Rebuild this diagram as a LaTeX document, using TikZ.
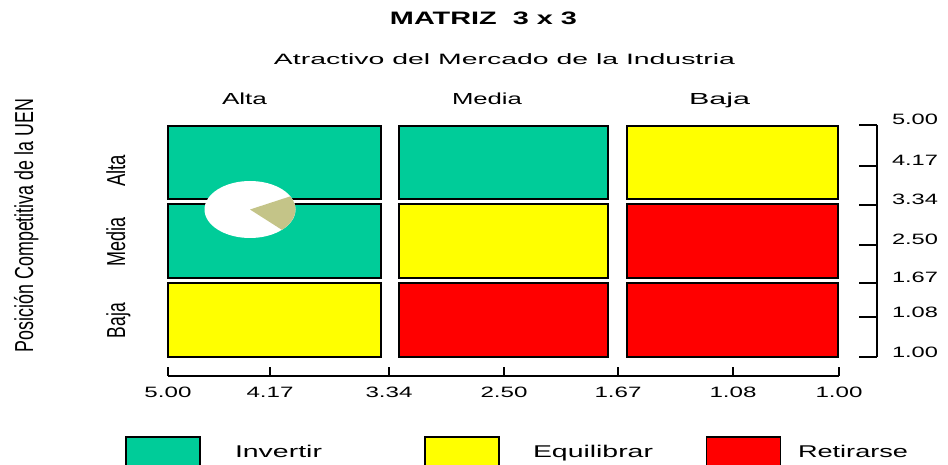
\documentclass[tikz,border=0pt]{standalone}
\usepackage{fontspec}
\setmainfont{Liberation Sans}
\usepackage{graphicx}
\definecolor{inv}{RGB}{0,204,153}
\definecolor{equ}{RGB}{255,255,0}
\definecolor{ret}{RGB}{255,0,0}
\definecolor{piecol}{RGB}{196,196,136}
\newcommand\fittext[3]{\resizebox{#1pt}{\height}{\fontsize{#2}{#2}\selectfont #3}}
\begin{document}
\begin{tikzpicture}[x=1pt,y=-1pt,
  cellbox/.style={draw=black,line width=1.6pt,inner sep=0pt,outer sep=0pt},
  lbl/.style={inner sep=0pt,outer sep=0pt,anchor=base},
  axisline/.style={draw=black,line width=1.4pt}]
\useasboundingbox (0,0) rectangle (948,465);
\clip (0,0) rectangle (948,465);

% title texts
\node[lbl] (title) at (483.5,25) {\fittext{187}{18}{\bfseries MATRIZ\ \ 3 x 3}};
\node[lbl] (sub) at (504.5,65) {\fittext{461}{15}{Atractivo del Mercado de la Industria}};
\node[lbl] (hA) at (244.5,105) {\fittext{45}{16}{Alta}};
\node[lbl] (hM) at (487,105) {\fittext{70}{16}{Media}};
\node[lbl] (hB) at (719.5,105) {\fittext{61}{16}{Baja}};

% vertical labels
\node[lbl,rotate=90] (ylab) at (33,225.5) {\fittext{253}{26}{Posición Competitiva de la UEN}};
\node[lbl,rotate=90] (rA) at (125,171) {\fittext{32}{26}{Alta}};
\node[lbl,rotate=90] (rM) at (125,242) {\fittext{49}{26}{Media}};
\node[lbl,rotate=90] (rB) at (125,320.5) {\fittext{35}{26}{Baja}};

% cells
\node[cellbox,fill=inv,minimum width=213pt,minimum height=73pt] (c11) at (274.5,162.5) {};
\node[cellbox,fill=inv,minimum width=209pt,minimum height=73pt] (c12) at (503.5,162.5) {};
\node[cellbox,fill=equ,minimum width=211pt,minimum height=73pt] (c13) at (732.5,162.5) {};
\node[cellbox,fill=inv,minimum width=213pt,minimum height=74pt] (c21) at (274.5,241) {};
\node[cellbox,fill=equ,minimum width=209pt,minimum height=74pt] (c22) at (503.5,241) {};
\node[cellbox,fill=ret,minimum width=211pt,minimum height=74pt] (c23) at (732.5,241) {};
\node[cellbox,fill=equ,minimum width=213pt,minimum height=74pt] (c31) at (274.5,320) {};
\node[cellbox,fill=ret,minimum width=209pt,minimum height=74pt] (c32) at (503.5,320) {};
\node[cellbox,fill=ret,minimum width=211pt,minimum height=74pt] (c33) at (732.5,320) {};

% pie
\coordinate (pc) at (250,209.5);
\fill[white] (pc) ellipse [x radius=45.5, y radius=28.5];
\fill[piecol] (pc) -- ++(-27.5:45.5 and 28.5) arc[start angle=-27.5, end angle=45.5, x radius=45.5, y radius=28.5] -- cycle;

% right axis
\coordinate (rtop) at (877,125);
\coordinate (rbot) at (877,357);
\draw[axisline] (rtop) -- (rbot);
\foreach \yy/\t/\n in {125/5.00/r1,166/4.17/r2,205/3.34/r3,245/2.50/r4,283/1.67/r5,317/1.08/r6,357/1.00/r7}{
  \coordinate (\n a) at (859,\yy);
  \coordinate (\n b) at (877,\yy);
  \draw[axisline] (\n a) -- (\n b);
  \node[lbl] (\n) at (915,\yy) {\fittext{46}{15}{\t}};
}

% bottom axis
\coordinate (bl) at (168,376);
\coordinate (br) at (839,376);
\draw[axisline] (bl) -- (br);
\foreach \xx/\t/\n in {168/5.00/b1,270/4.17/b2,389/3.34/b3,504/2.50/b4,618/1.67/b5,733/1.08/b6,839/1.00/b7}{
  \coordinate (\n a) at (\xx,367);
  \coordinate (\n b) at (\xx,376);
  \draw[axisline] (\n a) -- (\n b);
  \node[lbl] (\n) at (\xx,397) {\fittext{47}{15}{\t}};
}

% legend
\node[cellbox,fill=inv,minimum width=74pt,minimum height=34pt] (lg1) at (163,454) {};
\node[cellbox,fill=equ,minimum width=74pt,minimum height=34pt] (lg2) at (462,454) {};
\node[cellbox,fill=ret,minimum width=74pt,minimum height=34pt] (lg3) at (743.5,454) {};
\node[lbl,anchor=base west] (lt1) at (235,457) {\fittext{87}{17}{Invertir}};
\node[lbl,anchor=base west] (lt2) at (533,457) {\fittext{120}{17}{Equilibrar}};
\node[lbl,anchor=base west] (lt3) at (798,457) {\fittext{110}{17}{Retirarse}};
\end{tikzpicture}
\end{document}
